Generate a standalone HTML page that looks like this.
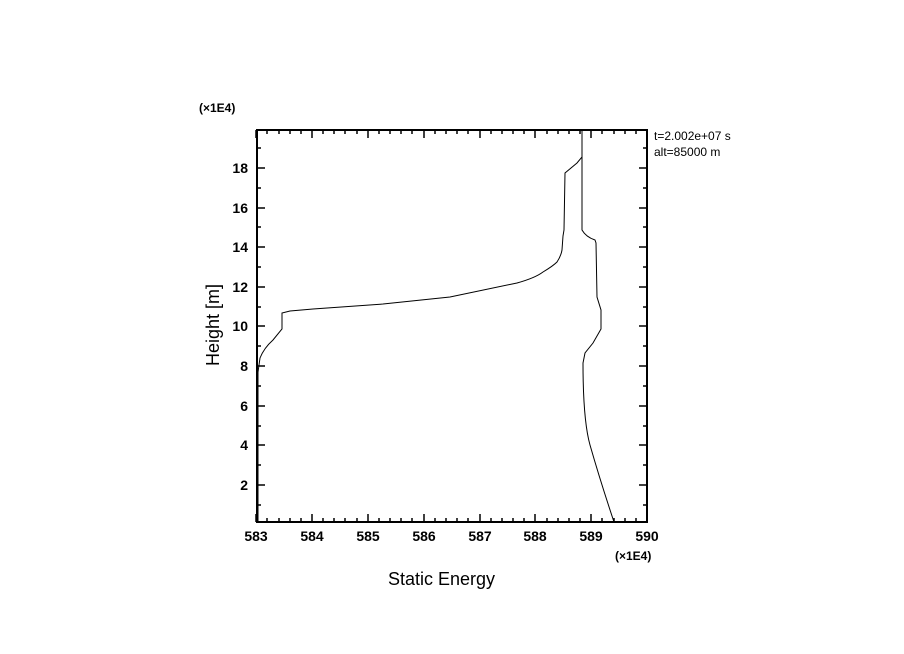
<!DOCTYPE html>
<html><head><style>body{margin:0;background:#fff}svg{display:block}text{font-family:"Liberation Sans",sans-serif;fill:#000}</style></head>
<body>
<svg width="904" height="654" xmlns="http://www.w3.org/2000/svg">
<rect x="257" y="130" width="390" height="392" fill="none" stroke="#000" stroke-width="2"/>
<g stroke="#000" stroke-width="1.5" fill="none">
<path d="M256,522V514M312,522V514M368,522V514M424,522V514M480,522V514M535,522V514M591,522V514
M256,130V138M312,130V138M368,130V138M424,130V138M480,130V138M535,130V138M591,130V138"/>
<path d="M267,522V518M279,522V518M290,522V518M301,522V518M323,522V518M334,522V518M345,522V518M357,522V518M379,522V518M390,522V518M401,522V518M412,522V518M435,522V518M446,522V518M457,522V518M468,522V518M491,522V518M502,522V518M513,522V518M524,522V518M547,522V518M558,522V518M569,522V518M580,522V518M602,522V518M614,522V518M625,522V518M636,522V518
M267,130V134M279,130V134M290,130V134M301,130V134M323,130V134M334,130V134M345,130V134M357,130V134M379,130V134M390,130V134M401,130V134M412,130V134M435,130V134M446,130V134M457,130V134M468,130V134M491,130V134M502,130V134M513,130V134M524,130V134M547,130V134M558,130V134M569,130V134M580,130V134M602,130V134M614,130V134M625,130V134M636,130V134"/>
<path d="M257,485H265M257,445H265M257,406H265M257,366H265M257,326H265M257,287H265M257,247H265M257,208H265M257,168H265
M647,485H639M647,445H639M647,406H639M647,366H639M647,326H639M647,287H639M647,247H639M647,208H639M647,168H639"/>
<path d="M257,505H261M257,465H261M257,426H261M257,386H261M257,346H261M257,307H261M257,267H261M257,227H261M257,188H261M257,148H261
M647,505H643M647,465H643M647,426H643M647,386H643M647,346H643M647,307H643M647,267H643M647,227H643M647,188H643M647,148H643"/>
</g>
<g fill="none" stroke="#000" stroke-width="1">
<path d="M258,522L258,372L260,358Q264,348 273,340L282,329L282,313L290,311L313,309L383,304L450,297L517,283Q535,278 543,272Q553,266 557,262Q561,256 562,250L563,236L564,230L565,173L577,163L582,157L582,130"/>
<path d="M582,130L582,230Q586,237 595,240L596,243L597,297L601,310L601,329L593,343L585,353L583,363Q583,420 590,445Q600,480 614,522"/>
</g>
<g font-size="14" font-weight="bold" text-anchor="end">
<text x="248" y="490">2</text><text x="248" y="450">4</text><text x="248" y="411">6</text><text x="248" y="371">8</text><text x="248" y="331">10</text><text x="248" y="292">12</text><text x="248" y="252">14</text><text x="248" y="213">16</text><text x="248" y="173">18</text>
</g>
<g font-size="14" font-weight="bold" text-anchor="middle">
<text x="256" y="541">583</text><text x="312" y="541">584</text><text x="368" y="541">585</text><text x="424" y="541">586</text><text x="480" y="541">587</text><text x="535" y="541">588</text><text x="591" y="541">589</text><text x="647" y="541">590</text>
</g>
<text x="199" y="112" font-size="12" font-weight="bold">(×1E4)</text>
<text x="615" y="560" font-size="12" font-weight="bold">(×1E4)</text>
<text x="388" y="585" font-size="18">Static Energy</text>
<text transform="translate(219,325) rotate(-90)" font-size="18" text-anchor="middle">Height [m]</text>
<text x="654" y="140" font-size="12">t=2.002e+07 s</text>
<text x="654" y="156" font-size="12">alt=85000 m</text>
</svg>
</body></html>
